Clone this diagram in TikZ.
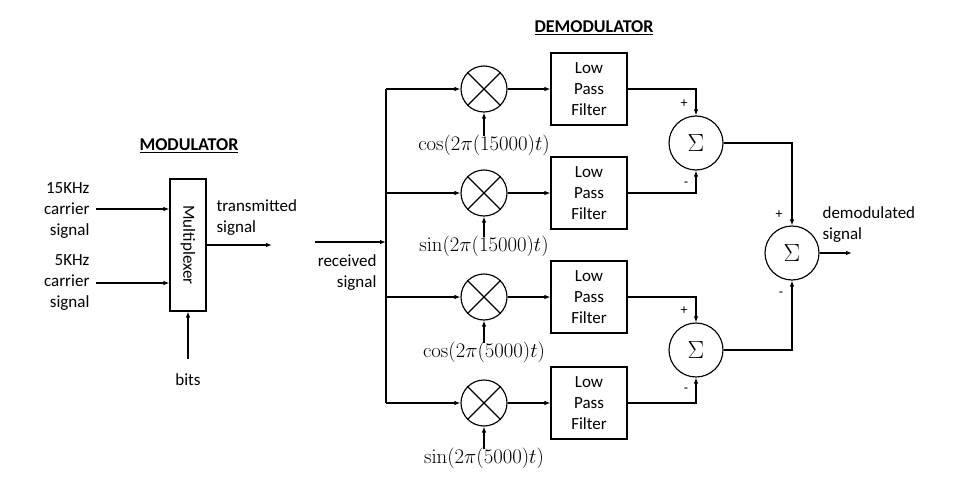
\documentclass[tikz,border=0pt]{standalone}
\usepackage[no-math]{fontspec}
\setmainfont{Carlito}
\usetikzlibrary{arrows.meta}
\begin{document}
\begin{tikzpicture}[x=1pt,y=-1pt,
  font=\fontsize{17}{21}\selectfont,
  line width=1.15pt,
  arr/.style={-{Latex[length=6pt,width=4.5pt]}},
  blk/.style={draw,rectangle,inner sep=0pt},
  mult/.style={draw,circle,minimum size=46pt,inner sep=0pt},
  summ/.style={draw,circle,minimum size=54pt,inner sep=0pt,font=\fontsize{23}{26}\selectfont},
  lpf/.style={blk,minimum width=76pt,minimum height=72pt,align=center},
  sgn/.style={inner sep=0pt,font=\fontsize{14}{16}\selectfont},
  osc/.style={inner sep=1pt,font=\fontsize{19.5}{22}\selectfont},
  head/.style={font=\fontsize{18}{22}\selectfont\bfseries}]
\useasboundingbox (0,0) rectangle (960,476);
\fill[white] (0,0) rectangle (960,476);

% ---------- MODULATOR ----------
\node[head] (modt) at (189,146) {\underline{MODULATOR}};
\node[blk,minimum width=36pt,minimum height=132pt] (mux) at (188,245) {};
\node[rotate=-90,inner sep=0pt] (muxl) at (mux.center) {Multiplexer};
\node[anchor=east,align=right,inner sep=0pt] (l15) at (90,210) {15KHz\\carrier\\signal};
\node[anchor=east,align=right,inner sep=0pt] (l5) at (90,283) {5KHz\\carrier\\signal};
\coordinate (in1) at (96,209);
\coordinate (in2) at (96,283);
\draw[arr] (in1) -- (in1 -| mux.west);
\draw[arr] (in2) -- (in2 -| mux.west);
\coordinate (tx) at (272,245);
\draw[arr] (mux.east) -- (tx);
\node[anchor=west,align=left,inner sep=0pt] (txl) at (216,218) {transmitted\\signal};
\node (bits) at (188,380) {bits};
\coordinate (bitsin) at (188,359);
\draw[arr] (bitsin) -- (mux.south);

% ---------- DEMODULATOR ----------
\node[head] (demodt) at (594,28) {\underline{DEMODULATOR}};
\coordinate (rx) at (315,242);
\coordinate (bus) at (386,242);
\draw[arr] (rx) -- (bus);
\node[anchor=east,align=right,inner sep=0pt] (rxl) at (377,273) {received\\signal};

\coordinate (b1) at (386,89);
\coordinate (b2) at (386,193);
\coordinate (b3) at (386,297);
\coordinate (b4) at (386,403);
\draw (b1) -- (b4);

\foreach \i/\y in {1/89,2/193,3/297,4/403}{
  \node[mult] (m\i) at (484,\y) {};
  \draw (m\i.north east) -- (m\i.south west);
  \draw (m\i.north west) -- (m\i.south east);
  \node[lpf] (f\i) at (589,\y) {Low\\Pass\\Filter};
  \draw[arr] (b\i) -- (m\i.west);
  \draw[arr] (m\i.east) -- (f\i.west);
}
\node[osc] (c1) at (484,145) {$\cos(2\pi(15000)t)$};
\node[osc] (c2) at (484,246) {$\sin(2\pi(15000)t)$};
\node[osc] (c3) at (484,352) {$\cos(2\pi(5000)t)$};
\node[osc] (c4) at (484,458) {$\sin(2\pi(5000)t)$};
\foreach \i in {1,2,3,4}{
  \draw[arr] ([yshift=-3pt]c\i.north) -- (m\i.south);
}

\node[summ] (s1) at (696,143) {$\Sigma$};
\node[summ] (s2) at (696,350) {$\Sigma$};
\node[summ] (s3) at (792,253) {$\Sigma$};
\draw[arr] (f1.east) -| (s1.north);
\draw[arr] (f2.east) -| (s1.south);
\draw[arr] (f3.east) -| (s2.north);
\draw[arr] (f4.east) -| (s2.south);
\draw[arr] (s1.east) -| (s3.north);
\draw[arr] (s2.east) -| (s3.south);
\coordinate (out) at (852,253);
\draw[arr] (s3.east) -- (out);
\node[anchor=west,align=left,inner sep=0pt] (outl) at (822,225) {demodulated\\signal};

\node[sgn] (p1) at (684,104) {+};
\node[sgn] (n1) at (686,184) {-};
\node[sgn] (p2) at (684,311) {+};
\node[sgn] (n2) at (686,390) {-};
\node[sgn] (p3) at (779,215) {+};
\node[sgn] (n3) at (781,294) {-};
\end{tikzpicture}
\end{document}
